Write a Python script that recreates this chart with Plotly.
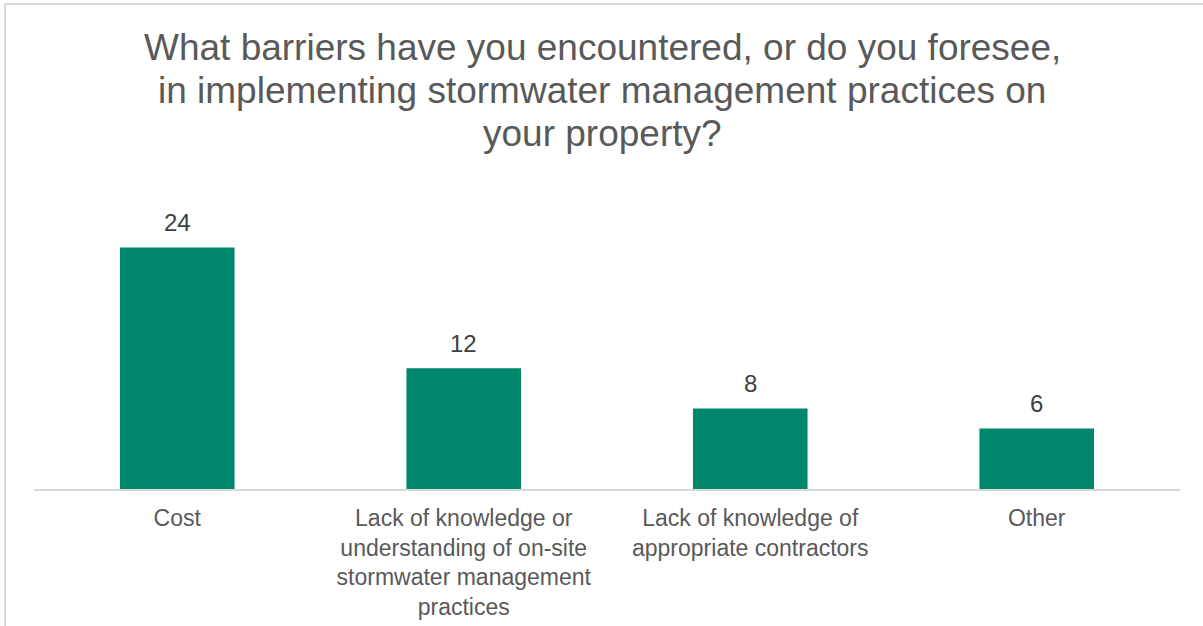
import plotly.graph_objects as go

categories = [
    "Cost",
    "Lack of knowledge or<br>understanding of on-site<br>stormwater management<br>practices",
    "Lack of knowledge of<br>appropriate contractors",
    "Other",
]
counts = [24, 12, 8, 6]

title_lines = [
    "What barriers have you encountered, or do you foresee,",
    "in implementing stormwater management practices on",
    "your property?",
]

W, H = 1203, 626
left, right, top, bottom = 34, 23, 187, 137
plot_w = W - left - right
plot_h = H - top - bottom

# pixel -> paper helpers (page pixels from top-left)
def px_x(px):
    return (px - left) / plot_w

def px_y(py):
    return (H - bottom - py) / plot_h

FONT = "Liberation Sans, Arial"

fig = go.Figure(go.Bar(
    x=categories,
    y=counts,
    marker=dict(color="#00866a", line=dict(width=0)),
    width=0.4,
    hoverinfo="x+y",
))

annotations = []
for i, line in enumerate(title_lines):
    annotations.append(dict(
        text=line, xref="paper", yref="paper",
        x=px_x(602), y=px_y(47 + 43 * i),
        xanchor="center", yanchor="middle", showarrow=False,
        font=dict(size=37, color="#595959", family=FONT),
    ))

# value labels above the bars
for cat, val in zip(categories, counts):
    annotations.append(dict(
        text=str(val), x=cat, y=val, xref="x", yref="y",
        xanchor="center", yanchor="middle", yshift=25, showarrow=False,
        font=dict(size=24, color="#404040", family=FONT),
    ))

fig.update_layout(
    width=W, height=H,
    margin=dict(l=left, r=right, t=top, b=bottom, autoexpand=False),
    paper_bgcolor="white",
    plot_bgcolor="white",
    font=dict(family=FONT, color="#595959"),
    showlegend=False,
    annotations=annotations,
    xaxis=dict(showline=True, linecolor="#d9d9d9", linewidth=2,
               tickfont=dict(size=23, color="#595959"), ticks="",
               ticklabelstandoff=7, automargin=False, showgrid=False),
    yaxis=dict(range=[0, 30], visible=False, showgrid=False,
               automargin=False),
    shapes=[
        dict(type="line", xref="paper", yref="paper",
             x0=px_x(5), x1=px_x(5), y0=px_y(4), y1=px_y(H),
             line=dict(color="#d9d9d9", width=2)),
        dict(type="line", xref="paper", yref="paper",
             x0=px_x(5), x1=px_x(W), y0=px_y(4), y1=px_y(4),
             line=dict(color="#d9d9d9", width=2)),
    ],
)

fig.write_html("out.html", config={"displayModeBar": False},
               post_script="document.body.style.margin='0';")
